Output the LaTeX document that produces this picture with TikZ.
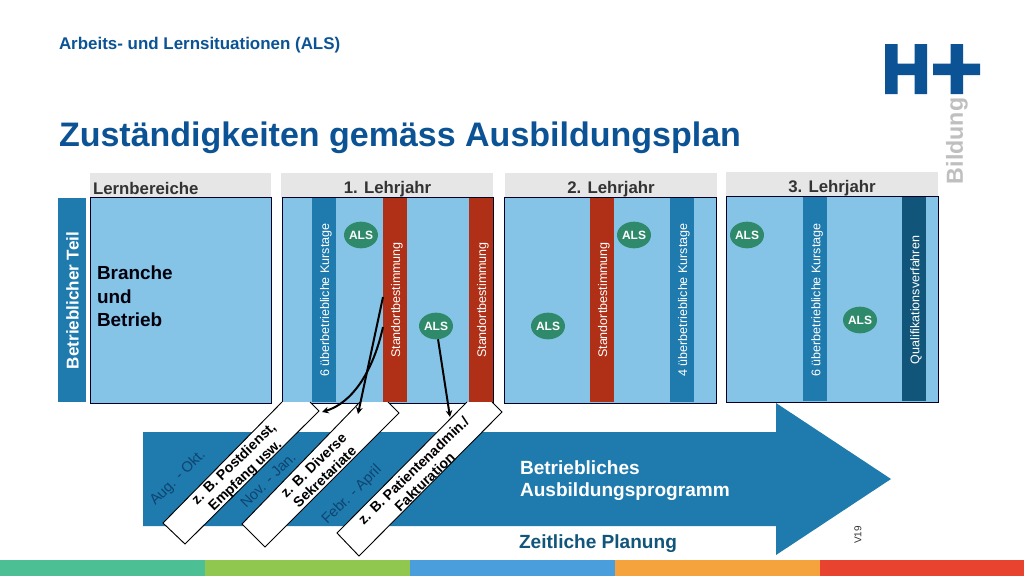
\documentclass[tikz,border=0pt]{standalone}
\usepackage{fontspec}
\setmainfont{Liberation Sans}
\usetikzlibrary{arrows.meta,shapes.geometric}
\definecolor{hblue}{HTML}{0B5394}
\definecolor{sky}{HTML}{85C4E7}
\definecolor{bar}{HTML}{1F7AAD}
\definecolor{rust}{HTML}{B03017}
\definecolor{deep}{HTML}{12557A}
\definecolor{datec}{HTML}{0E4470}
\definecolor{alsg}{HTML}{2F8A6B}
\definecolor{head}{HTML}{E6E6E6}
\definecolor{fa}{HTML}{4DBF94}
\definecolor{fb}{HTML}{8FC74F}
\definecolor{fc}{HTML}{4A9EDB}
\definecolor{fd}{HTML}{F5A33D}
\definecolor{fe}{HTML}{E8432E}
\tikzset{x=0.75pt,y=-0.75pt,every node/.style={outer sep=0pt},
 pane/.style={draw=black!85!blue,line width=0.75pt,fill=sky,minimum width=#1*0.75pt,minimum height=154.5pt,inner sep=0pt,anchor=north west},
 headbox/.style={fill=head,minimum width=#1*0.75pt,minimum height=18.5pt,inner sep=0pt,anchor=north west},
 headtext/.style={font=\bfseries\fontsize{12.6}{12.6}\selectfont,text=black!80,inner sep=0pt},
 vbar/.style={fill=#1,minimum width=18pt,minimum height=153.5pt,inner sep=0pt,anchor=north west},
 vtext/.style={rotate=90,text=white,font=\fontsize{9.4}{10}\selectfont,inner sep=0pt},
 als/.style={ellipse,fill=alsg,text=white,font=\bfseries\fontsize{9}{9}\selectfont,minimum width=25.5pt,minimum height=20pt,inner sep=0pt},
 slant/.style={draw=black,line width=0.7pt,fill=white},
 slanttext/.style={rotate=44,font=\bfseries\fontsize{10.6}{12}\selectfont,align=center,inner sep=0pt,text=black},
 datetext/.style={rotate=45,font=\fontsize{11}{12}\selectfont,text=datec,inner sep=0pt},
 conn/.style={line width=1.5pt,draw=black,-{Stealth[length=5pt,width=5pt]}}
}
\begin{document}
\begin{tikzpicture}
\useasboundingbox (0,0) rectangle (1024,576);
\fill[white] (0,0) rectangle (1024,576);
% title
\node[anchor=west,inner sep=0pt,text=hblue,font=\bfseries\fontsize{12.7}{12}\selectfont] (sub) at (59,45) {Arbeits- und Lernsituationen (ALS)};
\node[anchor=west,inner sep=0pt,text=hblue,font=\bfseries\fontsize{25.5}{26}\selectfont] (title) at (59,138) {Zuständigkeiten gemäss Ausbildungsplan};
% logo
\fill[hblue] (885,44) rectangle (897.5,94) (914.5,44) rectangle (927,94) (885,63.5) rectangle (927,75);
\fill[hblue] (933,63.5) rectangle (980,75) (950.5,44) rectangle (963,94);
\node[rotate=90,inner sep=0pt,text=black!25,font=\bfseries\fontsize{17.4}{18}\selectfont] (bildung) at (957,141) {Bildung};
% header boxes
\node[headbox=181] (h0) at (90,173) {};
\node[headbox=212] (h1) at (281,173) {};
\node[headbox=212] (h2) at (505,173) {};
\node[headbox=212] (h3) at (726,172) {};
\node[headtext,anchor=west] (t0) at (93,188) {Lernbereiche};
% side
\node[fill=bar,minimum width=21pt,minimum height=153pt,inner sep=0pt,anchor=north west] (side) at (58,198) {};
\node[rotate=90,text=white,inner sep=0pt,font=\bfseries\fontsize{12.8}{13}\selectfont] (sidet) at (72.5,300.5) {Betrieblicher Teil};
% arrow
\fill[bar] (143,432) -- (776,432) -- (776,403) -- (891,479) -- (776,555) -- (776,526) -- (143,526) -- cycle;
% panes
\node[pane=181] (p0) at (90,197) {};
\node[pane=211] (p1) at (282,197) {};
\node[pane=212] (p2) at (504,197) {};
\node[pane=212] (p3) at (726,196) {};
\node[headtext] (t1) at (387.5,189) {1. Lehrjahr};
\node[headtext] (t2) at (611,189) {2. Lehrjahr};
\node[headtext] (t3) at (832,188.5) {3. Lehrjahr};
\node[anchor=north west,align=left,inner sep=0pt,text=black!95!blue,font=\bfseries\fontsize{14.2}{17.6}\selectfont] (bb) at (97,266) {Branche\\und\\Betrieb};
% slanted boxes, under panes' lower edges
\draw[slant] (282,402) -- (163,523) -- (185,544) -- (319,411) -- (310,402);
\draw[slant] (360,402) -- (242,524) -- (265,547) -- (399,413) -- (388,402);
\draw[slant] (467,402) -- (337,533) -- (359,556) -- (502,412) -- (492,402);
% bars
\node[vbar=bar] (b1) at (312,197.5) {};
\node[vbar=rust] (b2) at (383,197.5) {};
\node[vbar=rust] (b3) at (469,197.5) {};
\node[vbar=rust] (b4) at (590,197.5) {};
\node[vbar=bar] (b5) at (670,197.5) {};
\node[vbar=bar] (b6) at (803,196.5) {};
\node[vbar=deep] (b7) at (902,196.5) {};
\node[vtext] (v1) at (326,300) {6 überbetriebliche Kurstage};
\node[vtext] (v2) at (397,300) {Standortbestimmung};
\node[vtext] (v3) at (483,300) {Standortbestimmung};
\node[vtext] (v4) at (604,300) {Standortbestimmung};
\node[vtext] (v5) at (684,300) {4 überbetriebliche Kurstage};
\node[vtext] (v6) at (817,300) {6 überbetriebliche Kurstage};
\node[vtext] (v7) at (916,300) {Qualifikationsverfahren};
% ALS
\node[als] (a1) at (361,235) {ALS};
\node[als] (a2) at (436,326) {ALS};
\node[als] (a3) at (634,235) {ALS};
\node[als] (a4) at (548,326) {ALS};
\node[als] (a5) at (747,235) {ALS};
\node[als] (a6) at (860,320) {ALS};
% connectors
\coordinate (s1) at (383,297);
\coordinate (e1) at (358,414);
\coordinate (s2) at (383,327);
\coordinate (e2) at (322,412);
\coordinate (e3) at (450,417);
\draw[conn] (s1) -- (e1);
\draw[conn] (s2) .. controls (373,372) and (352,403) .. (e2);
\draw[conn] (a2) -- (e3);
% slanted texts
\node[slanttext] (l1) at (240,470) {z. B. Postdienst,\\Empfang usw.};
\node[slanttext] (l2) at (319,471) {z. B. Diverse\\Sekretariate};
\node[slanttext] (l3) at (419,476) {z. B. Patientenadmin./\\Fakturation};
\node[datetext] (d1) at (178,478) {Aug. - Okt.};
\node[datetext] (d2) at (268,480) {Nov. - Jan.};
\node[datetext] (d3) at (352,495) {Febr. - April};
\node[anchor=north west,align=left,inner sep=0pt,text=white,font=\bfseries\fontsize{14.3}{16.5}\selectfont] (prog) at (520,461) {Betriebliches\\Ausbildungsprogramm};
\node[inner sep=0pt,text=deep,font=\bfseries\fontsize{14.3}{15}\selectfont] (plan) at (598,544) {Zeitliche Planung};
\node[rotate=90,inner sep=0pt,font=\fontsize{7.5}{8}\selectfont,text=black!80] (v) at (858,535) {V19};
% footer
\fill[fa] (0,560) rectangle (205,576);
\fill[fb] (205,560) rectangle (410,576);
\fill[fc] (410,560) rectangle (615,576);
\fill[fd] (615,560) rectangle (820,576);
\fill[fe] (820,560) rectangle (1024,576);
\end{tikzpicture}
\end{document}
